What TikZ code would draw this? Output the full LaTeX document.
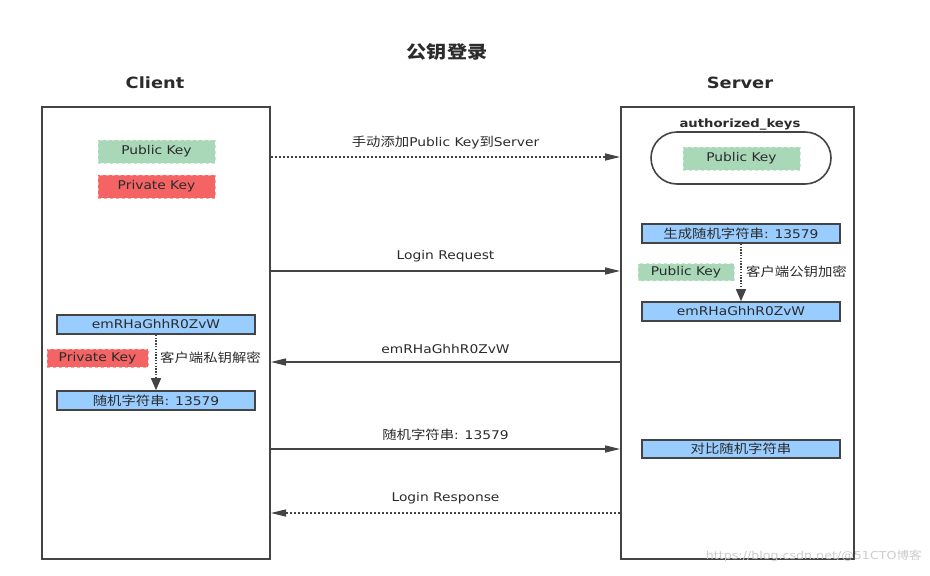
\documentclass[tikz,border=0pt]{standalone}
\usepackage{fontspec}
\setmainfont{DejaVu Sans}[FakeStretch=1.15]
\newfontfamily\cjk{Noto Sans CJK SC}[FakeStretch=1.15]
\usetikzlibrary{arrows.meta}
\definecolor{ink}{HTML}{2B2B2B}
\definecolor{frame}{HTML}{444444}
\definecolor{keygreen}{HTML}{A8D8B8}
\definecolor{keyred}{HTML}{F46464}
\definecolor{bluefill}{HTML}{99CCFF}
\newcommand{\lt}{\fontsize{12}{14}\selectfont}
\newcommand{\ct}{\cjk\fontsize{12.5}{14}\selectfont}
\begin{document}
\begin{tikzpicture}[x=1pt,y=-1pt,
  every node/.style={text=ink, inner sep=0pt},
  bigbox/.style={draw=frame, line width=2pt, minimum height=452pt},
  greenkey/.style={fill=keygreen, draw=keygreen!60!white, dashed, line width=0.8pt, font=\lt},
  redkey/.style={fill=keyred, draw=keyred!60!white, dashed, line width=0.8pt, font=\lt},
  bluebox/.style={fill=bluefill, draw=frame, line width=1.6pt, minimum width=198pt, minimum height=19pt, font=\lt},
  msg/.style={draw=frame, line width=1.3pt, -{Triangle[length=15pt,width=7pt]}},
  dots/.style={dash pattern=on 1.6pt off 2.4pt},
  inner/.style={draw=frame, line width=1.3pt, dash pattern=on 1.4pt off 1.4pt, -{Triangle[length=12pt,width=10pt]}},
  lbl/.style={above=8pt}]
\useasboundingbox (0,0) rectangle (930,576);

% title and headers
\node (title) at (447,52) {\cjk\bfseries\fontsize{17.5}{19}\selectfont 公钥登录};
\node (clienthead) at (155,83) {\bfseries\fontsize{15.5}{17}\selectfont Client};
\node (serverhead) at (740,83) {\bfseries\fontsize{15.5}{17}\selectfont Server};

% main boxes
\node[bigbox, minimum width=228pt] (client) at (156,333) {};
\node[bigbox, minimum width=233pt] (server) at (737.5,333) {};

% client keys
\node[greenkey, minimum width=117pt, minimum height=23pt] (cpub) at (156.5,151.5) {Public Key};
\node[redkey, minimum width=117pt, minimum height=23pt] (cpriv) at (156.5,186.5) {Private Key};

% server authorized keys
\node[font=\bfseries\fontsize{11.5}{13}\selectfont] (authk) at (740,124) {authorized\_keys};
\node[draw=frame, line width=1.6pt, rounded corners=26pt, minimum width=180pt, minimum height=52pt] (ring) at (741,158) {};
\node[greenkey, minimum width=117pt, minimum height=23pt] (spub) at (741.5,158.5) {Public Key};

% server steps
\node[bluebox] (gen) at (741,233.5) {{\ct 生成随机字符串}: 13579};
\node[greenkey, minimum width=96pt, minimum height=17pt] (spub2) at (686,272) {Public Key};
\node[font=\ct, anchor=west] (enc) at (746,272) {客户端公钥加密};
\node[bluebox] (cipher) at (741,311.5) {emRHaGhhR0ZvW};
\draw[inner] (gen.south) -- (cipher.north);

% client steps
\node[bluebox] (ccipher) at (156,324.5) {emRHaGhhR0ZvW};
\node[redkey, minimum width=101pt, minimum height=18pt] (cpriv2) at (97.5,358) {Private Key};
\node[font=\ct, anchor=west] (dec) at (160,358) {客户端私钥解密};
\node[bluebox] (plain) at (156,400.5) {{\ct 随机字符串}: 13579};
\draw[inner] (ccipher.south) -- (plain.north);

\node[bluebox, minimum height=18pt] (cmp) at (741,449) {\ct 对比随机字符串};

% rows for messages
\coordinate (r1) at (0,157);
\coordinate (r2) at (0,271);
\coordinate (r3) at (0,362);
\coordinate (r4) at (0,449);
\coordinate (r5) at (0,513);

\draw[msg, dots] (client.east |- r1) -- node[above=7pt] (l1) {{\ct 手动添加}{\lt Public Key}{\ct 到}{\lt Server}} (server.west |- r1);
\draw[msg] (client.east |- r2) -- node[lbl, font=\lt] (l2) {Login Request} (server.west |- r2);
\draw[msg] (server.west |- r3) -- node[lbl, font=\lt] (l3) {emRHaGhhR0ZvW} (client.east |- r3);
\draw[msg] (client.east |- r4) -- node[lbl] (l4) {{\ct 随机字符串}{\lt : 13579}} (server.west |- r4);
\draw[msg, dots] (server.west |- r5) -- node[lbl, font=\lt] (l5) {Login Response} (client.east |- r5);

% watermark
\node[text=gray!40, font=\fontsize{11}{13}\selectfont, anchor=east] (wm) at (922,556) {https://blog.csdn.net/@51CTO{\cjk 博客}};
\end{tikzpicture}
\end{document}
